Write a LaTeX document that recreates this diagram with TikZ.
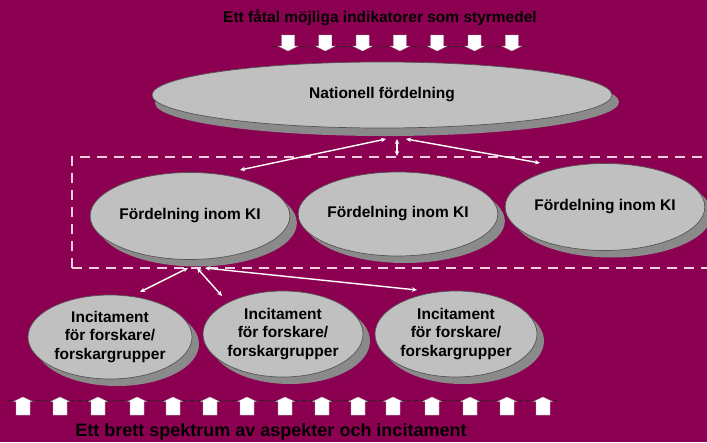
\documentclass[tikz,border=0pt]{standalone}
\usepackage{fontspec}
\setmainfont{Liberation Sans}
\usetikzlibrary{arrows.meta,shapes.geometric,shadows}
\definecolor{bg}{RGB}{140,0,82}
\definecolor{ellfill}{RGB}{192,192,192}
\definecolor{ellshadow}{RGB}{138,138,138}
\definecolor{ellborder}{RGB}{85,85,85}
\definecolor{dashcol}{RGB}{240,205,225}
\tikzset{
  downarr/.pic={\filldraw[white, draw=gray!70, line width=0.3pt]
     (-6.5,0)--(6.5,0)--(6.5,11)--(10,11)--(0,16)--(-10,11)--(-6.5,11)--cycle;},
  uparr/.pic={\filldraw[white, draw=gray!70, line width=0.3pt]
     (0,0)--(9.5,4.5)--(7,4.5)--(7,18)--(-7,18)--(-7,4.5)--(-9.5,4.5)--cycle;}
}
\begin{document}
\begin{tikzpicture}[x=1pt,y=-1pt,
  txt/.style={font=\fontsize{15.5}{18.5}\selectfont\bfseries, text=black, inner sep=0pt},
  ell/.style={ellipse, fill=ellfill, draw=ellborder, line width=0.7pt, inner sep=0pt,
    font=\fontsize{15.5}{18.5}\selectfont\bfseries, align=center,
    general shadow={fill=ellshadow, shadow xshift=7pt, shadow yshift=-7pt}},
  conn/.style={draw=white, line width=1.4pt,
    {Stealth[length=5pt,width=4.5pt]}-{Stealth[length=5pt,width=4.5pt]}},
  dotline/.style={draw=black!85, line width=0.8pt, dash pattern=on 4pt off 3pt}
]
\fill[bg] (0,0) rectangle (707,442);
\clip (0,0) rectangle (707,442);
\useasboundingbox (0,0) rectangle (707,442);

% top label and arrows
\node[txt] (toplbl) at (380,18) {Ett fåtal möjliga indikatorer som styrmedel};
\draw[dotline] (272,46) -- (527,46);
\foreach \i in {0,...,6} { \pic at ({288+37.3*\i},35) {downarr}; }

% national ellipse
\node[ell, minimum width=460pt, minimum height=66pt,
      general shadow={fill=ellshadow, shadow xshift=3pt, shadow yshift=-8pt}] (nat) at (382,95) {Nationell fördelning};

% dashed frame
\draw[dashcol, line width=2pt, dash pattern=on 10pt off 7pt] (72,268) -- (72,157) -- (715,157);
\draw[dashcol, line width=2pt, dash pattern=on 10pt off 7pt] (72,268) -- (715,268);

% KI ellipses
\node[ell, minimum width=184pt, minimum height=87pt] (k1) at (190,216) {Fördelning inom KI};
\node[ell, minimum width=185pt, minimum height=84pt] (k2) at (398,214) {Fördelning inom KI};
\node[ell, minimum width=185pt, minimum height=87pt] (k3) at (605,207) {Fördelning inom KI};

% incitament ellipses
\node[ell, minimum width=164pt, minimum height=84pt] (i1) at (110,337) {Incitament\\för forskare/\\forskargrupper};
\node[ell, minimum width=160pt, minimum height=86pt] (i2) at (283,334) {Incitament\\för forskare/\\forskargrupper};
\node[ell, minimum width=162pt, minimum height=86pt] (i3) at (456,334) {Incitament\\för forskare/\\forskargrupper};

% connector end points
\coordinate (n1) at (386,139);
\coordinate (n2) at (397,139);
\coordinate (n3) at (406,139);
\coordinate (e1) at (240,170);
\coordinate (e2) at (397,156);
\coordinate (e3) at (540,163);
\coordinate (h1) at (188,268);
\coordinate (h2) at (197,268);
\coordinate (h3) at (205,268);
\coordinate (f1) at (140,292);
\coordinate (f2) at (222,296);
\coordinate (f3) at (417,290);

\draw[conn] (n1) -- (e1);
\draw[conn] (n2) -- (e2);
\draw[conn] (n3) -- (e3);
\draw[conn] (h1) -- (f1);
\draw[conn] (h2) -- (f2);
\draw[conn] (h3) -- (f3);

% bottom arrows and label
\draw[dotline] (8,400) -- (557,400);
\foreach \x in {23,60,98,137,173,210,247,285,322,358,393,432,470,507,543} { \pic at (\x,397) {uparr}; }
\node[txt, font=\fontsize{18}{21}\selectfont\bfseries] (botlbl) at (271,432) {Ett brett spektrum av aspekter och incitament};
\end{tikzpicture}
\end{document}
